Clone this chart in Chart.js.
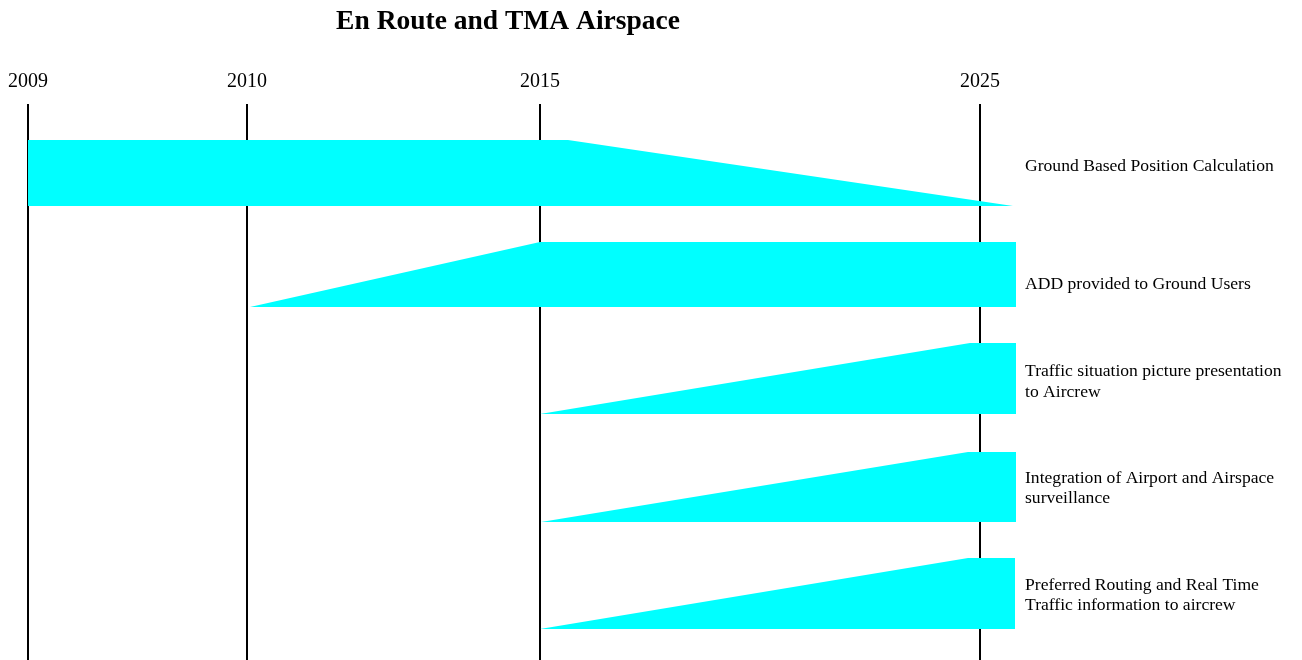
<!DOCTYPE html>
<html>
<head>
<meta charset="utf-8">
<script src="https://cdn.jsdelivr.net/npm/chart.js@4"></script>
<style>
  body { margin: 0; background: #fff; }
  #wrap { width: 1302px; height: 660px; }
</style>
</head>
<body>
<div id="wrap"><canvas id="roadmap"></canvas></div>
<script>
// timeline marks (x position on the roadmap axis)
const yearLabels = ['2009', '2010', '2015', '2025'];
const yearPos    = [0, 21.9, 51.2, 95.2];

// lanes, top to bottom
const laneNames = [
    'Ground Based Position Calculation',
    'ADD provided to Ground Users',
    ['Traffic situation picture presentation', 'to Aircrew'],
    ['Integration of Airport and Airspace', 'surveillance'],
    ['Preferred Routing and Real Time', 'Traffic information to aircrew']
];
const laneLabelPos = [0.62, 1.80, 2.78, 3.845, 4.915];
const laneTop      = [0.36, 1.38, 2.39, 3.48, 4.54];
const laneBottom   = [1.02, 2.03, 3.10, 4.18, 5.25];
// 'out' = full then tapering away, 'in' = ramping up then full
const laneTrend    = ['out', 'in', 'in', 'in', 'in'];
const laneStart    = [0, 22.2, 51.2, 51.3, 51.2];
const laneKnee     = [54.0, 51.2, 94.2, 94.0, 94.0];
const laneEnd      = [98.5, 98.8, 98.8, 98.8, 98.7];

const CYAN = 'rgb(0, 255, 255)';
const SERIF = "'Liberation Serif', 'Times New Roman', serif";

let datasets = [];
for (let i = 0; i < laneNames.length; i++) {
    let pts;
    if (laneTrend[i] === 'out') {
        pts = [
            {x: laneStart[i], y: laneTop[i]},
            {x: laneKnee[i],  y: laneTop[i]},
            {x: laneEnd[i],   y: laneBottom[i]}
        ];
    } else {
        pts = [
            {x: laneStart[i], y: laneBottom[i]},
            {x: laneKnee[i],  y: laneTop[i]},
            {x: laneEnd[i],   y: laneTop[i]}
        ];
    }
    datasets.push({
        label: Array.isArray(laneNames[i]) ? laneNames[i].join(' ') : laneNames[i],
        data: pts,
        borderWidth: 0,
        borderColor: CYAN,
        backgroundColor: CYAN,
        pointRadius: 0,
        tension: 0,
        fill: {value: laneBottom[i]}
    });
}

const ctx = document.getElementById('roadmap').getContext('2d');
new Chart(ctx, {
    type: 'line',
    data: { datasets: datasets },
    options: {
        responsive: true,
        maintainAspectRatio: false,
        animation: false,
        devicePixelRatio: 1,
        layout: { padding: 0 },
        plugins: {
            legend: { display: false },
            tooltip: { enabled: false },
            title: {
                display: true,
                text: 'En Route and TMA Airspace',
                fullSize: false,
                color: '#000',
                font: { family: SERIF, size: 27.5, weight: 'bold' },
                padding: { top: 5, bottom: 0 }
            }
        },
        scales: {
            x: {
                type: 'linear',
                position: 'top',
                min: -2.8,
                max: 98.8,
                afterFit: function(scale) {
                    scale.height = 104 - (5 + 27.5 * 1.2);
                    scale.paddingLeft = 0;
                    scale.paddingRight = 0;
                },
                afterBuildTicks: function(scale) {
                    scale.ticks = yearPos.map(v => ({value: v}));
                },
                ticks: {
                    color: '#000',
                    font: { family: SERIF, size: 20 },
                    padding: 10,
                    maxRotation: 0,
                    autoSkip: false,
                    callback: function(value) {
                        let k = yearPos.indexOf(value);
                        return k >= 0 ? yearLabels[k] : '';
                    }
                },
                grid: {
                    color: '#000',
                    lineWidth: 2,
                    drawTicks: false
                },
                border: { display: false }
            },
            y: {
                type: 'linear',
                position: 'right',
                reverse: true,
                min: 0,
                max: 5.56,
                afterFit: function(scale) {
                    scale.width = 286;
                    scale.paddingTop = 0;
                    scale.paddingBottom = 0;
                },
                afterBuildTicks: function(scale) {
                    scale.ticks = laneLabelPos.map(v => ({value: v}));
                },
                ticks: {
                    color: '#000',
                    font: { family: SERIF, size: 17.6, lineHeight: 1.17 },
                    padding: 9,
                    crossAlign: 'near',
                    autoSkip: false,
                    callback: function(value) {
                        let k = laneLabelPos.indexOf(value);
                        return k >= 0 ? laneNames[k] : '';
                    }
                },
                grid: { display: false, drawTicks: false },
                border: { display: false }
            }
        }
    }
});
</script>
</body>
</html>
